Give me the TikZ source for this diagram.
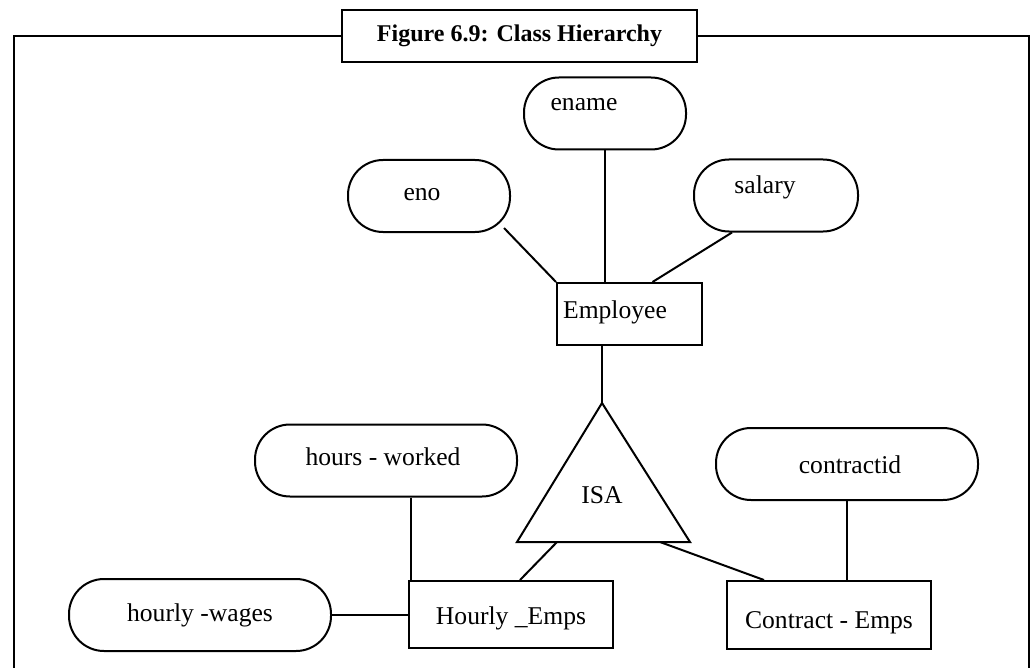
\documentclass[tikz,border=0pt]{standalone}
\usepackage{fontspec}
\setmainfont{Liberation Serif}
\usetikzlibrary{calc}
\newcommand{\bodyfont}{\fontsize{12.8pt}{15pt}\selectfont}
\tikzset{
  attr/.style={draw, rounded corners=17.5pt, minimum height=36pt, inner sep=0pt},
  ent/.style={draw, inner sep=0pt},
  frame/.style={line width=1.4pt}
}

\begin{document}
\begin{tikzpicture}[x=0.5pt,y=-0.5pt,line width=1pt,
    every label/.append style={font=\bodyfont, inner sep=0pt}]
  \useasboundingbox (0,0) rectangle (1031,668);

  % title and frame
  \node[draw, line width=1.2pt, fill=white, minimum width=177.5pt, minimum height=26pt,
        font=\fontsize{12pt}{14pt}\selectfont\bfseries] (title) at (519.5,36) {Figure 6.9: Class Hierarchy};
  \draw[frame] (title.west) -| (14,668);
  \draw[frame] (title.east) -| (1029,668);

  % attributes of Employee
  \node[attr, minimum width=81pt, label={[shift={(-21,-8.5)}]center:ename}] (ename) at (605,113.5) {};
  \node[attr, minimum width=81pt, label={[shift={(-7,-1)}]center:eno}] (eno) at (429,196) {};
  \node[attr, minimum width=82pt, label={[shift={(-11,-8.5)}]center:salary}] (salary) at (776,195.5) {};

  \node[ent, minimum width=72.5pt, minimum height=31pt, label={[shift={(-14.5,-2)}]center:Employee}] (emp) at (629.5,314) {};

  % ISA triangle
  \coordinate (isatop) at (602,403);
  \coordinate (isaleft) at (517,542);
  \coordinate (isaright) at (690,542);
  \draw (isatop) -- (isaleft) -- (isaright) -- cycle;
  \node[font=\bodyfont] (isa) at (602,495) {ISA};
  \coordinate (isab1) at (557,542);
  \coordinate (isab2) at (660,542);

  % subclasses
  \node[attr, minimum width=131pt, label={[shift={(-3,-3.5)}]center:hours - worked}] (hw) at (386,460.5) {};
  \node[attr, minimum width=131pt, label={[shift={(3,1)}]center:contractid}] (cid) at (847,464) {};
  \node[attr, minimum width=131pt, label={center:hourly -wages}] (wages) at (200,615) {};

  \node[ent, minimum width=102pt, minimum height=33.5pt, label={[shift={(0,3.5)}]center:Hourly \_Emps}] (hourly) at (511,614.5) {};
  \node[ent, minimum width=102pt, minimum height=34pt, label={[shift={(0,8)}]center:Contract - Emps}] (contract) at (829,615) {};

  \coordinate (hwfoot) at ($(hourly.north west)+(3,0)$);

  \path[draw]
  ($(eno.south east)+(-7,-5)$) edge (emp.north west)
  (ename.south) edge (ename.south |- emp.north)
  ($(salary.south)+(-44,0)$) edge ($(emp.north)+(23,0)$)
  (emp.south -| isatop) edge (isatop)

  (hwfoot |- hw.south) edge (hwfoot)
  (wages.east) edge (wages.east -| hourly.west)
  (isab1) edge ($(hourly.north)+(9,0)$)
  (isab2) edge ($(contract.north west)+(38,0)$)
  (cid.south) edge (cid.south |- contract.north)
  ;

\end{tikzpicture}
\end{document}
